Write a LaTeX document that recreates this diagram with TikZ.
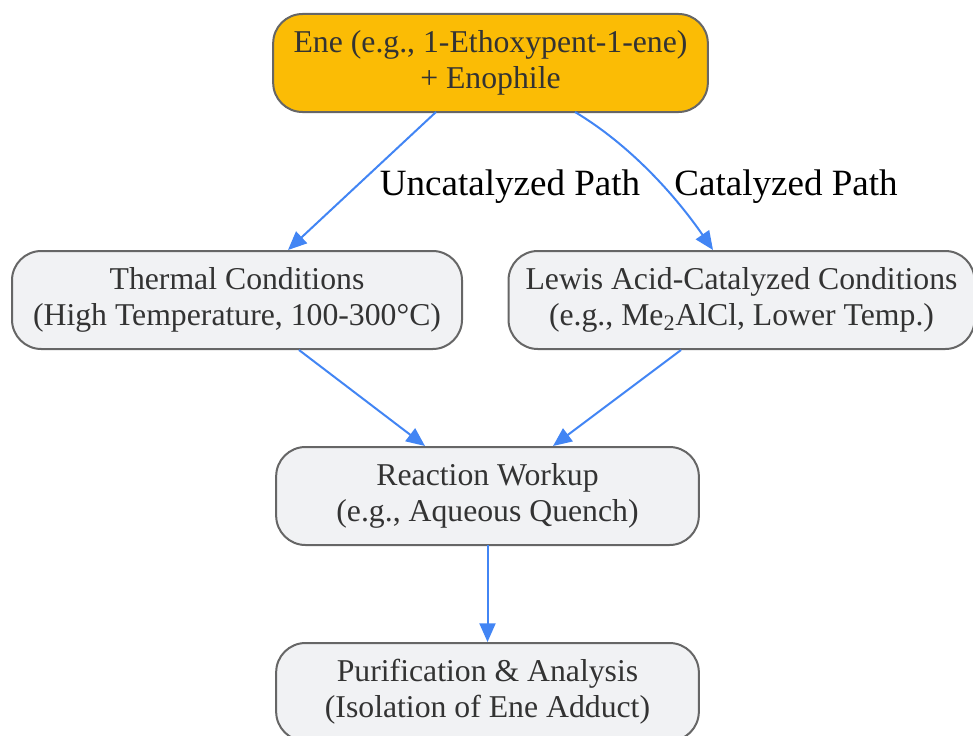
\documentclass[tikz,border=0pt]{standalone}
\usepackage{fontspec}
\setmainfont{Liberation Serif}
\usetikzlibrary{arrows.meta}
\definecolor{edgeblue}{HTML}{4285F4}
\definecolor{topfill}{HTML}{FBBC05}
\definecolor{boxfill}{HTML}{F1F2F4}
\definecolor{boxdraw}{HTML}{666666}
\definecolor{txt}{HTML}{333333}
\newcommand{\twolines}[2]{\raisebox{-2.2pt}{\begin{tabular}{@{}c@{}}#1\\#2\end{tabular}}}
\tikzset{
  box/.style={draw=boxdraw, line width=1.5pt, fill=boxfill, rounded corners=22pt,
    align=center, text=txt, font=\fontsize{23.8}{27}\selectfont, inner sep=0pt},
  conn/.style={draw=edgeblue, line width=1.5pt, -{Triangle[length=14pt,width=12pt]}},
  lbl/.style={text=black, font=\fontsize{27.8}{30}\selectfont}
}
\begin{document}
\begin{tikzpicture}[x=0.75pt,y=-0.75pt]
\useasboundingbox (0,0) rectangle (973,735);
\node[box, fill=topfill, minimum width=326pt, minimum height=73.5pt] (ene) at (490.5,63)
  {\twolines{Ene (e.g., 1-Ethoxypent-1-ene)}{+ Enophile}};
\node[box, minimum width=337.5pt, minimum height=73.5pt] (therm) at (237,300)
  {\twolines{Thermal Conditions}{(High Temperature, 100-300°C)}};
\node[box, minimum width=349.5pt, minimum height=73.5pt] (lewis) at (741.5,300)
  {\twolines{Lewis Acid-Catalyzed Conditions}{(e.g., Me\textsubscript{2}AlCl, Lower Temp.)}};
\node[box, minimum width=317pt, minimum height=73.5pt] (work) at (487.5,496)
  {\twolines{Reaction Workup}{(e.g., Aqueous Quench)}};
\node[box, minimum width=317pt, minimum height=73.5pt] (pur) at (487.5,692)
  {\twolines{Purification \& Analysis}{(Isolation of Ene Adduct)}};
\coordinate (e1) at (436,112);
\coordinate (e2) at (575,112);
\coordinate (t1) at (288,250);
\coordinate (l1) at (713,250);
\draw[conn] (e1) -- (t1);
\draw[conn] (e2) .. controls (630,145) and (675,195) .. (l1);
\draw[conn] (therm.south -| 299,0) -- (work.north -| 425,0);
\draw[conn] (lewis.south -| 681,0) -- (work.north -| 553,0);
\draw[conn] (work) ++(0,49) -- (pur.north);
\node[lbl] (ul) at (510,187) {Uncatalyzed Path};
\node[lbl] (cl) at (786,187) {Catalyzed Path};
\end{tikzpicture}
\end{document}
